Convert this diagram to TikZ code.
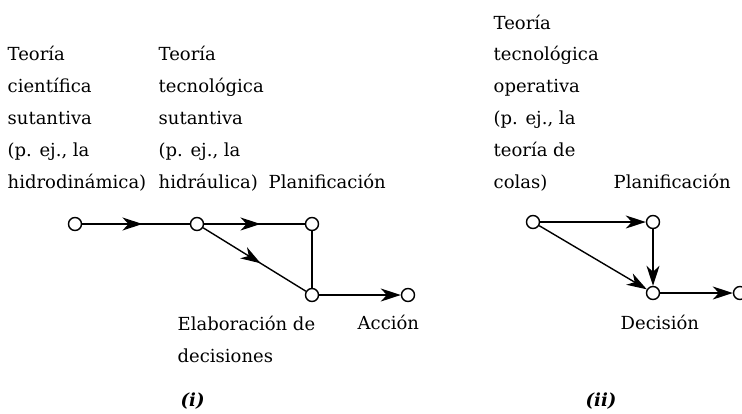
\documentclass[tikz,border=0pt]{standalone}
\usepackage{fontspec}
\setmainfont{DejaVu Serif}
\usetikzlibrary{arrows.meta,decorations.markings}

\begin{document}
\begin{tikzpicture}[x=1pt,y=-1pt,line width=1.4pt,
    main/.style = {draw,circle,fill=white,minimum size=13pt,inner sep=0pt},
    txt/.style = {anchor=base west,inner sep=0pt,align=left,font=\fontsize{18}{31.8}\selectfont},
    tip/.style = {-{Stealth[length=20pt,width=13pt,inset=6pt]}},
    midtip/.style = {postaction={decorate},decoration={markings,
        mark=at position 0.56 with {\arrow{Stealth[length=20pt,width=13pt,inset=6pt]}}}}]
    \useasboundingbox (0,0) rectangle (742,413);
    % (i)
    \node[txt] (t1) at (7,188) {Teoría\\científica\\sutantiva\\(p. ej., la\\hidrodinámica)};
    \node[txt] (t2) at (158,188) {Teoría\\tecnológica\\sutantiva\\(p. ej., la\\hidráulica)};
    \node[txt] (t3) at (268,188) {Planificación};
    \node[txt] (t4) at (177,362) {Elaboración de\\decisiones};
    \node[txt] (t5) at (357,329) {Acción};
    \node[txt,font=\fontsize{18}{20}\selectfont\bfseries\itshape] (t6) at (180,406) {(i)};
    \node[main] (1) at (75,224) {};
    \node[main] (2) at (197,224) {};
    \node[main] (3) at (312,224) {};
    \node[main] (4) at (312,295) {};
    \node[main] (5) at (408,295) {};
    \draw[midtip] (1) -- (2);
    \draw[midtip] (2) -- (3);
    \draw[midtip] (2) -- (4);
    \draw (3) -- (4);
    \draw[tip] (4) -- (5);
    % (ii)
    \node[txt] (t7) at (493,188) {Teoría\\tecnológica\\operativa\\(p. ej., la\\teoría de\\colas)};
    \node[txt] (t8) at (613,188) {Planificación};
    \node[txt] (t9) at (620,329) {Decisión};
    \node[txt,font=\fontsize{18}{20}\selectfont\bfseries\itshape] (t10) at (585,406) {(ii)};
    \node[main] (6) at (533,222) {};
    \node[main] (7) at (653,222) {};
    \node[main] (8) at (653,293) {};
    \node[main] (9) at (740,293) {};
    \draw[tip] (6) -- (7);
    \draw[tip] (7) -- (8);
    \draw[tip] (6) -- (8);
    \draw[tip] (8) -- (9);
\end{tikzpicture}
\end{document}
